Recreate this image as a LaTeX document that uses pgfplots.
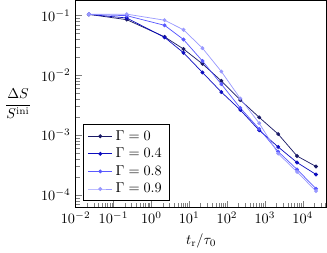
\documentclass[border=0pt]{standalone}
\usepackage{amsmath}
\usepackage{pgfplots}
\pgfplotsset{compat=1.18}
\definecolor{cA}{rgb}{0.10,0.10,0.40}
\definecolor{cB}{rgb}{0.05,0.05,0.75}
\definecolor{cC}{rgb}{0.35,0.35,1.00}
\definecolor{cD}{rgb}{0.60,0.60,1.00}
\begin{document}
\begin{tikzpicture}
\begin{axis}[
  scale only axis,
  width=176pt, height=145pt,
  xmode=log, ymode=log,
  xmin=1e-2, xmax=4.3e4,
  ymin=6.25e-5, ymax=0.179,
  tick pos=left,
  xlabel={$t_{\mathrm{r}}/\tau_0$},
  ylabel={$\dfrac{\Delta S}{S^{\mathrm{ini}}}$},
  ylabel style={rotate=-90},
  legend pos=south west,
  legend cell align=left,
  every axis plot/.append style={line width=0.5pt, mark=*, mark size=1.1pt},
]
\addplot[color=cA, mark options={fill=cA}] coordinates {
(0.0224,0.104) (0.224,0.0849) (2.24,0.0438) (7.07,0.0275) (22.4,0.0155)
(70.7,0.00805) (224,0.00386) (707,0.00198) (2240,0.00104) (7070,4.47e-4) (22400,2.99e-4)};
\addlegendentry{$\Gamma=0$}
\addplot[color=cB, mark options={fill=cB}] coordinates {
(0.0224,0.104) (0.224,0.0906) (2.24,0.0430) (7.07,0.0238) (22.4,0.01114)
(70.7,0.00524) (224,0.00263) (707,0.00120) (2240,6.34e-4) (7070,3.48e-4) (22400,2.20e-4)};
\addlegendentry{$\Gamma=0.4$}
\addplot[color=cC, mark options={fill=cC}] coordinates {
(0.0224,0.104) (0.224,0.099) (2.24,0.0683) (7.07,0.0396) (22.4,0.0173)
(70.7,0.00710) (224,0.00284) (707,0.00127) (2240,5.30e-4) (7070,2.67e-4) (22400,1.27e-4)};
\addlegendentry{$\Gamma=0.8$}
\addplot[color=cD, mark options={fill=cD}] coordinates {
(0.0224,0.105) (0.224,0.105) (2.24,0.0832) (7.07,0.0575) (22.4,0.0284)
(70.7,0.01156) (224,0.00408) (707,0.00158) (2240,4.91e-4) (7070,2.42e-4) (22400,1.16e-4)};
\addlegendentry{$\Gamma=0.9$}
\end{axis}
\end{tikzpicture}
\end{document}
